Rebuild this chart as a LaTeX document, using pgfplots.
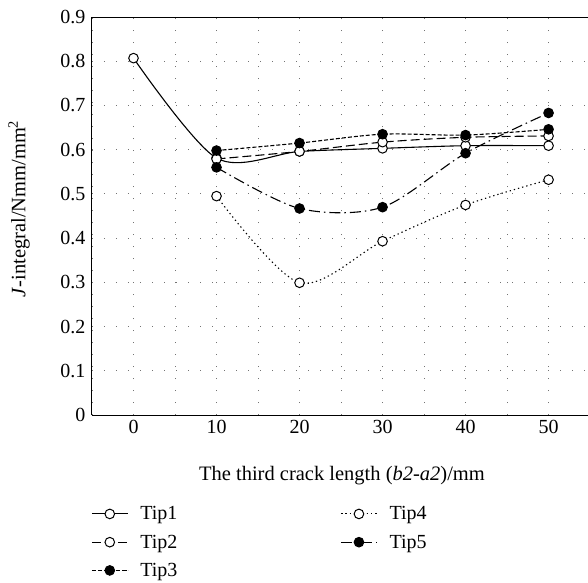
\documentclass[border=0pt]{standalone}
\usepackage{fontspec}
\setmainfont{Liberation Serif}
\usepackage{pgfplots}
\pgfplotsset{compat=1.18}
\usetikzlibrary{calc}
\begin{document}
\begin{tikzpicture}
\begin{axis}[
  name=ax,
  scale only axis,
  width=496pt, height=398pt,
  xmin=-5, xmax=54.75,
  ymin=0, ymax=0.9,
  axis x line=box, axis y line=left,
  axis line style={line width=1pt, -},
  xtick={0,10,20,30,40,50},
  minor xtick={-5,5,15,25,35,45},
  ytick={0,0.1,0.2,0.3,0.4,0.5,0.6,0.7,0.8,0.9},
  xtick pos=bottom, ytick pos=left,
  major tick length=0pt, minor tick length=0pt,
  grid=both,
  major grid style={black!55, line width=0.8pt, dash pattern=on 1.2pt off 10.8pt},
  minor grid style={black!55, line width=0.8pt, dash pattern=on 1.2pt off 10.8pt},
  /pgf/number format/assume math mode=true,
  ticklabel style={font=\fontsize{20}{24}\selectfont},
  yticklabel style={xshift=-3pt},
  xticklabel style={yshift=-2pt},
  xlabel={The third crack length (\textit{b2-a2})/mm},
  ylabel={\textit{J}-integral/Nmm/mm\textsuperscript{2}},
  label style={font=\fontsize{20.5}{24}\selectfont},
  xlabel style={at={(axis description cs:0.504,-0.152)}, anchor=center},
  ylabel style={at={(axis description cs:-0.147,0.518)}, anchor=center},
  legend columns=2,
  legend cell align=left,
  legend style={draw=none, fill=none, font=\fontsize{20}{24}\selectfont,
    at={(axis description cs:-0.008,-0.2195)}, anchor=north west,
    /tikz/every odd column/.append style={column sep=10pt},
    /tikz/every even column/.append style={column sep=161pt},
    row sep=9.5pt},
  legend image code/.code={\draw[#1, mark repeat=2, mark phase=2] plot coordinates {(0pt,0pt) (18pt,0pt) (36pt,0pt)};},
  every axis plot/.append style={line width=1.1pt, black, smooth, mark=*, mark size=4.8pt},
]
% Tip1
\addplot[solid, mark options={solid, line width=1pt, fill=white}] coordinates {(0,0.807) (10,0.581) (20,0.596) (30,0.603) (40,0.609) (50,0.609)};
\addlegendentry{Tip1}
% Tip4
\addplot[dash pattern=on 1.3pt off 3pt, mark options={solid, line width=1pt, fill=white}] coordinates {(10,0.495) (20,0.299) (30,0.393) (40,0.475) (50,0.532)};
\addlegendentry{Tip4}
% Tip2
\addplot[dash pattern=on 9pt off 4pt, mark options={solid, line width=1pt, fill=white}] coordinates {(10,0.579) (20,0.596) (30,0.617) (40,0.628) (50,0.631)};
\addlegendentry{Tip2}
% Tip5
\addplot[dash pattern=on 11pt off 4pt on 1.5pt off 4pt, mark options={solid, line width=1pt, fill=black}] coordinates {(10,0.560) (20,0.467) (30,0.470) (40,0.592) (50,0.683)};
\addlegendentry{Tip5}
% Tip3
\addplot[dash pattern=on 4pt off 2pt, mark options={solid, line width=1pt, fill=black}] coordinates {(10,0.598) (20,0.615) (30,0.635) (40,0.633) (50,0.646)};
\addlegendentry{Tip3}
\end{axis}
\pgfresetboundingbox
\path[use as bounding box] ($(ax.south west)+(-92pt,-167pt)$) rectangle ($(ax.south west)+(496pt,415pt)$);
\end{tikzpicture}
\end{document}
